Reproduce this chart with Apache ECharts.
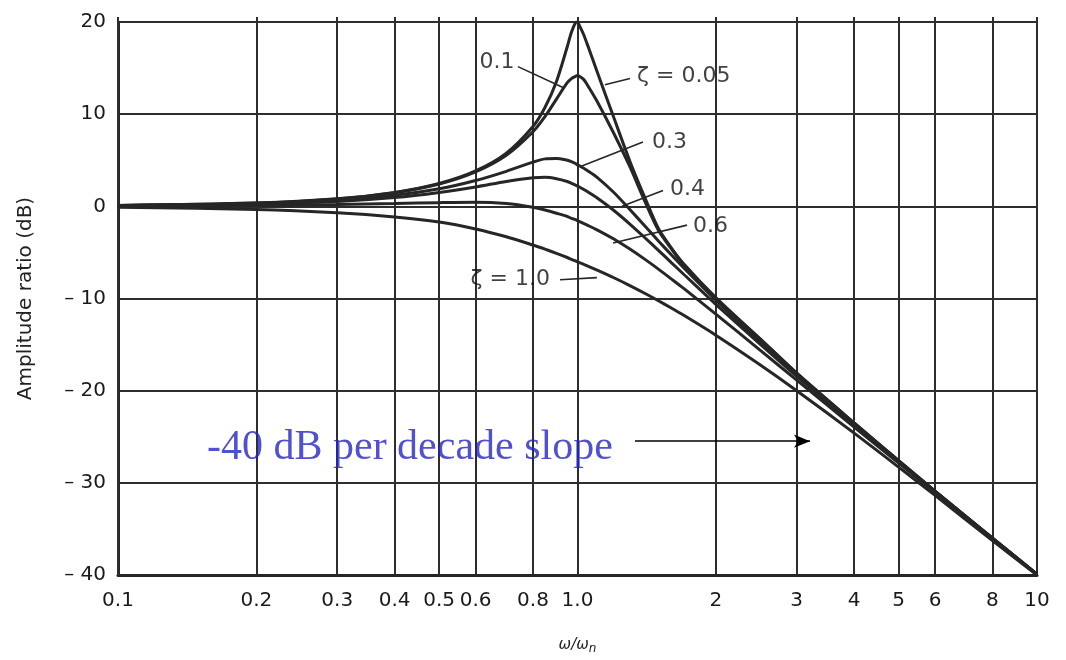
<!DOCTYPE html>
<html>
<head>
<meta charset="utf-8">
<script src="https://cdn.jsdelivr.net/npm/echarts@6/dist/echarts.min.js"></script>
<style>html,body{margin:0;padding:0;background:#fff;}#main{width:1066px;height:660px;}</style>
</head>
<body>
<div id="main"></div>
<script>
// frequency ratio w/wn
const rVals = [0.1,0.2,0.3,0.4,0.5,0.6,0.7,0.8,0.85,0.9,0.95,0.97,0.99,1.0,1.01,1.03,1.05,1.1,1.2,1.3,1.4,1.5,1.6,1.7,2,2.5,3,4,5,6,8,10];
// amplitude ratio (dB) for each damping ratio
const zeta005 = [0.09,0.35,0.81,1.51,2.48,3.84,5.77,8.66,10.75,13.55,17.32,18.89,19.92,20.0,19.6,18.7,17.6,14.8,9.6,4.9,1.0,-2.4,-4.5,-6.2,-9.9,-14.4,-18.1,-23.5,-27.6,-30.9,-36.0,-39.9];
const zeta01  = [0.09,0.35,0.80,1.48,2.42,3.73,5.53,8.09,9.75,11.64,13.41,13.86,14.1,14.2,14.1,13.8,13.2,11.5,7.9,4.3,0.6,-2.6,-4.6,-6.3,-10.0,-14.4,-18.1,-23.5,-27.6,-30.9,-36.0,-39.9];
const zeta03  = [0.07,0.29,0.65,1.2,1.9,2.8,3.8,4.8,5.15,5.2,5.0,4.85,4.65,4.5,4.4,4.15,3.9,3.2,1.5,-0.35,-2.1,-3.75,-5.26,-6.64,-10.19,-14.74,-18.28,-23.63,-27.67,-30.93,-36.01,-39.93];
const zeta04  = [0.06,0.24,0.53,0.95,1.5,2.1,2.7,3.1,3.15,3.0,2.7,2.5,2.3,2.2,2.1,1.85,1.6,0.95,-0.45,-1.92,-3.38,-4.77,-6.1,-7.34,-10.63,-14.99,-18.44,-23.72,-27.72,-30.96,-36.03,-39.94];
const zeta06  = [0.02,0.09,0.19,0.3,0.4,0.45,0.3,-0.1,-0.4,-0.75,-1.1,-1.3,-1.45,-1.55,-1.65,-1.85,-2.04,-2.52,-3.55,-4.64,-5.73,-6.81,-7.87,-8.88,-11.69,-15.63,-18.86,-23.95,-27.87,-31.06,-36.09,-39.98];
const zeta10  = [-0.09,-0.34,-0.7,-1.15,-1.7,-2.45,-3.3,-4.2,-4.65,-5.1,-5.55,-5.75,-5.93,-6.02,-6.11,-6.28,-6.45,-6.89,-7.75,-8.6,-9.43,-10.24,-11.03,-11.8,-13.98,-17.21,-20.0,-24.61,-28.3,-31.36,-36.26,-40.0];

// axis ticks
const xTickValues = [0.1,0.2,0.3,0.4,0.5,0.6,0.8,1,2,3,4,5,6,8,10];
const xTickLabels = ['0.1','0.2','0.3','0.4','0.5','0.6','0.8','1.0','2','3','4','5','6','8','10'];
const yMin = -40, yMax = 20, yStep = 10;

// curve labels: text, anchor point [r, dB], leader line start and end [r, dB]
const labelTexts = ['0.1','ζ = 0.05','0.3','0.4','0.6','ζ = 1.0'];
const labelPos   = [[0.668,15.6],[1.348,14.1],[1.452,7.0],[1.589,1.9],[1.784,-2.15],[0.871,-7.96]];
const labelSide  = ['center','right','right','right','right','left'];
const leaderFrom = [[0.742,15.16],[1.147,13.2],[1.0125,4.3],[1.25,0.0],[1.195,-3.98],[0.916,-7.96]];
const leaderTo   = [[0.930,12.9],[1.301,13.87],[1.388,6.99],[1.535,1.72],[1.731,-2.04],[1.102,-7.74]];

// slope note
const slopeText = '-40 dB per decade slope';
const slopeTextPos = [0.1562,-26.2];
const arrowFrom = [1.334,-25.48];
const arrowTo = [3.206,-25.48];

const FONT = 'DejaVu Sans';
const INK = '#262626';

const curves = [zeta005, zeta01, zeta03, zeta04, zeta06, zeta10];
const series = curves.map(arr => ({
  type: 'line',
  data: rVals.map((r, i) => [r, arr[i]]),
  showSymbol: false,
  smooth: 0.3,
  lineStyle: { color: INK, width: 3 },
  silent: true,
  z: 3
}));

series.push({
  type: 'scatter',
  symbolSize: 0,
  silent: true,
  data: labelTexts.map((t, i) => ({
    value: labelPos[i],
    name: t,
    label: {
      position: labelSide[i] === 'center' ? 'inside' : labelSide[i],
      distance: 0
    }
  })),
  label: {
    show: true,
    formatter: p => p.name,
    fontFamily: FONT,
    fontSize: 22,
    color: '#111'
  },
  markLine: {
    silent: true,
    symbol: 'none',
    label: { show: false },
    lineStyle: { color: INK, width: 1.6, type: 'solid' },
    data: leaderFrom.map((f, i) => [{ coord: f }, { coord: leaderTo[i] }])
  },
  z: 5
});

series.push({
  type: 'scatter',
  symbolSize: 0,
  silent: true,
  data: [{ value: slopeTextPos, name: slopeText }],
  label: {
    show: true,
    position: 'right',
    distance: 0,
    formatter: p => p.name,
    fontFamily: 'Liberation Serif',
    fontSize: 42,
    color: '#2424c4'
  },
  markLine: {
    silent: true,
    symbol: ['none', 'arrow'],
    symbolSize: [10, 16],
    label: { show: false },
    lineStyle: { color: '#000', width: 1.6, type: 'solid' },
    data: [[{ coord: arrowFrom }, { coord: arrowTo }]]
  },
  z: 6
});

function tickIndex(v) {
  return xTickValues.findIndex(t => Math.abs(Math.log10(t) - Math.log10(v)) < 1e-6);
}

const option = {
  animation: false,
  backgroundColor: '#fff',
  grid: { left: 118, top: 22, width: 919, height: 558, containLabel: false },
  xAxis: {
    type: 'log',
    logBase: 10,
    min: 0.1,
    max: 10,
    name: '{w|ω/ω}{n|n}',
    nameLocation: 'middle',
    nameGap: 60,
    nameTextStyle: {
      rich: {
        w: { fontFamily: FONT, fontSize: 15, fontStyle: 'italic', color: '#222' },
        n: { fontFamily: FONT, fontSize: 12, fontStyle: 'italic', color: '#222', verticalAlign: 'bottom', padding: [8, 0, 0, 0] }
      }
    },
    axisLine: { show: true, onZero: false, lineStyle: { color: INK, width: 3 } },
    splitLine: { show: false },
    minorTick: { show: false },
    minorSplitLine: { show: false },
    axisTick: {
      show: true,
      inside: true,
      length: 558,
      customValues: xTickValues,
      lineStyle: { color: '#2e2e2e', width: 2 }
    },
    axisLabel: {
      customValues: xTickValues,
      formatter: v => { const i = tickIndex(v); return i >= 0 ? xTickLabels[i] : ''; },
      margin: 16,
      fontFamily: FONT,
      fontSize: 20,
      color: '#1a1a1a'
    }
  },
  yAxis: {
    type: 'value',
    min: yMin,
    max: yMax,
    interval: yStep,
    name: 'Amplitude ratio (dB)',
    nameLocation: 'middle',
    nameGap: 82,
    nameTextStyle: { fontFamily: FONT, fontSize: 20, color: '#222' },
    axisLine: { show: true, onZero: false, lineStyle: { color: INK, width: 3 } },
    axisTick: { show: false },
    splitLine: { show: true, lineStyle: { color: '#2e2e2e', width: 2 } },
    axisLabel: {
      formatter: v => v < 0 ? '– ' + Math.abs(v) : String(v),
      margin: 12,
      fontFamily: FONT,
      fontSize: 20,
      color: '#1a1a1a'
    }
  },
  series: series
};

const chart = echarts.init(document.getElementById('main'), null, { renderer: 'canvas' });
chart.setOption(option);
</script>
</body>
</html>
